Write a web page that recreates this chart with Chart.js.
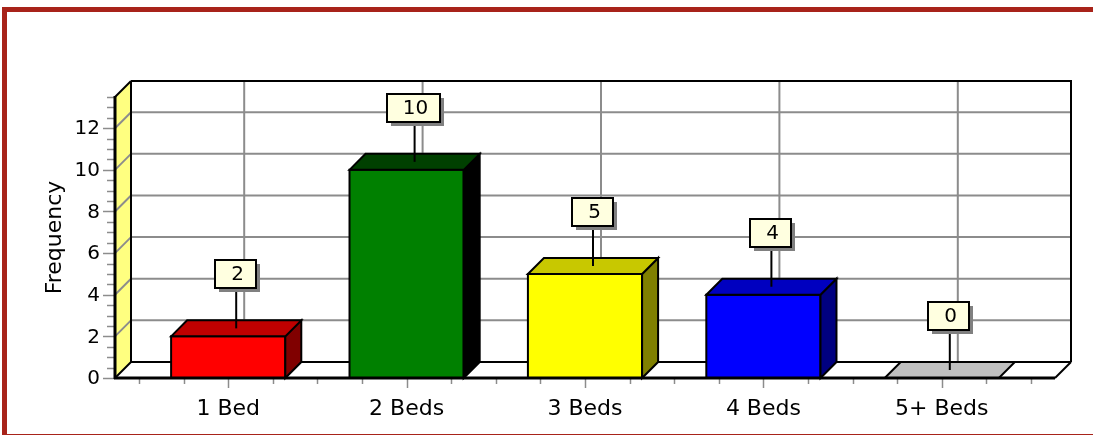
<!DOCTYPE html>
<html>
<head>
<meta charset="utf-8">
<script src="https://cdn.jsdelivr.net/npm/chart.js@4.4.1/dist/chart.umd.min.js"></script>
<style>
  html, body { margin: 0; padding: 0; background: #fff; overflow: hidden; }
  #wrap { position: relative; width: 1093px; height: 436px; }
  #frame {
    position: absolute; left: 2px; top: 7px; width: 1200px; height: 422px;
    border-top: 5px solid #A8231A; border-left: 5px solid #A8231A; border-bottom: 1px solid #A8231A;
  }
  canvas { position: absolute; left: 0; top: 0; }
</style>
</head>
<body>
<div id="wrap">
  <div id="frame"></div>
  <canvas id="bedsChart" width="1093" height="436"></canvas>
</div>
<script>
// data
const categories = ['1 Bed', '2 Beds', '3 Beds', '4 Beds', '5+ Beds'];
const frequency = [2, 10, 5, 4, 0];
const yTickValues = [0, 2, 4, 6, 8, 10, 12];
const yMax = 13.5;
const yMinorStep = 0.5;

// colours per bar: front, top, side
const frontColors = ['#FF0000', '#008000', '#FFFF00', '#0000FF', '#C0C0C0'];
const topColors = ['#C00000', '#004000', '#C8C800', '#0000C0', '#C0C0C0'];
const sideColors = ['#800000', '#000000', '#808000', '#000080', '#808080'];

const DX = 16, DY = 16;     // 3d depth offset
const EXT = 24;             // floor extends past category band
const FONT = "'DejaVu Sans', Verdana, sans-serif";
const GRID = '#8c8c8c';

function poly(ctx, pts, fill, stroke) {
  ctx.beginPath();
  ctx.moveTo(pts[0][0], pts[0][1]);
  for (let i = 1; i < pts.length; i++) ctx.lineTo(pts[i][0], pts[i][1]);
  ctx.closePath();
  if (fill) { ctx.fillStyle = fill; ctx.fill(); }
  if (stroke) { ctx.strokeStyle = stroke; ctx.lineWidth = 2; ctx.stroke(); }
}

function line(ctx, x1, y1, x2, y2, color, w) {
  ctx.beginPath();
  ctx.moveTo(x1, y1);
  ctx.lineTo(x2, y2);
  ctx.strokeStyle = color;
  ctx.lineWidth = w;
  ctx.stroke();
}

const box3d = {
  id: 'box3d',
  beforeDatasetsDraw(chart) {
    const { ctx, chartArea: a, scales: { x, y } } = chart;
    const L = a.left - EXT, R = a.right + EXT;
    const top = y.getPixelForValue(yMax), bot = y.getPixelForValue(0);
    ctx.save();
    ctx.lineCap = 'butt';

    // back wall
    poly(ctx, [[L + DX, top - DY], [R + DX, top - DY], [R + DX, bot - DY], [L + DX, bot - DY]], '#ffffff');
    yTickValues.forEach(v => {
      if (v === 0) return;
      const py = y.getPixelForValue(v) - DY;
      line(ctx, L + DX, py, R + DX, py, GRID, 2);
    });
    categories.forEach((c, i) => {
      const px = x.getPixelForValue(i) + DX;
      line(ctx, px, top - DY, px, bot - DY, GRID, 2);
    });

    // left wall
    poly(ctx, [[L, top], [L + DX, top - DY], [L + DX, bot - DY], [L, bot]], '#FFFF80');
    yTickValues.forEach(v => {
      if (v === 0) return;
      const py = y.getPixelForValue(v);
      line(ctx, L, py, L + DX, py - DY, GRID, 2);
    });

    // floor
    poly(ctx, [[L, bot], [L + DX, bot - DY], [R + DX, bot - DY], [R, bot]], '#ffffff');

    // outlines
    line(ctx, L + DX, top - DY, R + DX, top - DY, '#000', 2);
    line(ctx, R + DX, top - DY - 1, R + DX, bot - DY, '#000', 2);
    line(ctx, L + DX, top - DY, L + DX, bot - DY, '#000', 2);
    line(ctx, L + DX, bot - DY, R + DX, bot - DY, '#000', 2);
    line(ctx, R, bot, R + DX, bot - DY, '#000', 2);
    line(ctx, L, top, L + DX, top - DY, '#000', 2);
    line(ctx, L, bot, L + DX, bot - DY, '#000', 2);

    // y ticks
    for (let v = 0; v <= yMax + 1e-9; v += yMinorStep) {
      const py = Math.round(y.getPixelForValue(v)) + 0.5;
      const major = yTickValues.includes(v);
      line(ctx, L - (major ? 12 : 8), py, L, py, GRID, 1.5);
    }
    ctx.fillStyle = '#000';
    ctx.font = '20px ' + FONT;
    ctx.textAlign = 'right';
    ctx.textBaseline = 'middle';
    yTickValues.forEach(v => ctx.fillText(String(v), 100, y.getPixelForValue(v) + 1));

    // x ticks
    for (let i = 0; i <= categories.length * 4; i++) {
      const v = -0.5 + i * 0.25;
      const px = Math.round(x.getPixelForValue(v)) + 0.5;
      const major = i % 4 === 2;
      line(ctx, px, bot, px, bot + (major ? 10 : 6), GRID, 1.5);
    }
    ctx.font = '22px ' + FONT;
    ctx.textAlign = 'center';
    ctx.textBaseline = 'alphabetic';
    categories.forEach((c, i) => ctx.fillText(c, x.getPixelForValue(i), 415));

    // axis title
    ctx.save();
    ctx.translate(61, (top + bot) / 2);
    ctx.rotate(-Math.PI / 2);
    ctx.textBaseline = 'alphabetic';
    ctx.fillText('Frequency', 0, 0);
    ctx.restore();

    ctx.restore();
  },
  afterDatasetsDraw(chart) {
    const { ctx, chartArea: a, scales: { y } } = chart;
    const L = a.left - EXT, R = a.right + EXT;
    const top = y.getPixelForValue(yMax), bot = y.getPixelForValue(0);
    const meta = chart.getDatasetMeta(0);
    ctx.save();
    ctx.lineJoin = 'miter';

    meta.data.forEach((el, i) => {
      const { x: cx, y: ty, base, width } = el.getProps(['x', 'y', 'base', 'width'], true);
      const l = cx - width / 2, r = cx + width / 2;
      if (base - ty > 0.5) {
        poly(ctx, [[l, ty], [r, ty], [r, base], [l, base]], frontColors[i], '#000');
        poly(ctx, [[r, ty], [r + DX, ty - DY], [r + DX, base - DY], [r, base]], sideColors[i], '#000');
      }
      poly(ctx, [[l, ty], [l + DX, ty - DY], [r + DX, ty - DY], [r, ty]], topColors[i], '#000');
    });

    // front floor edge and front axis
    line(ctx, L - 1, bot, R, bot, '#000', 3);
    line(ctx, L, top - 1, L, bot + 1, '#000', 3);

    // value callouts
    ctx.font = '20px ' + FONT;
    ctx.textAlign = 'center';
    ctx.textBaseline = 'middle';
    meta.data.forEach((el, i) => {
      const { x: cx, y: ty } = el.getProps(['x', 'y'], true);
      const ax = cx + DX / 2, ay = ty - DY / 2;
      const txt = String(frequency[i]);
      const w = Math.round(ctx.measureText(txt).width + 28), h = 28;
      const bx = Math.round(ax - w / 2 - 1), by = Math.round(ay - 40 - h);
      line(ctx, ax, ay, ax, by + h, '#000', 2);
      ctx.fillStyle = '#808080';
      ctx.fillRect(bx + 4, by + 4, w, h);
      ctx.fillStyle = '#FFFFE0';
      ctx.fillRect(bx, by, w, h);
      ctx.strokeStyle = '#000';
      ctx.lineWidth = 2;
      ctx.strokeRect(bx, by, w, h);
      ctx.fillStyle = '#000';
      ctx.fillText(txt, bx + w / 2 + 2, by + h / 2 + 1);
    });
    ctx.restore();
  }
};

new Chart(document.getElementById('bedsChart'), {
  type: 'bar',
  data: {
    labels: categories,
    datasets: [{
      label: 'Frequency',
      data: frequency,
      backgroundColor: 'rgba(0,0,0,0)',
      borderWidth: 0,
      barPercentage: 0.64,
      categoryPercentage: 1
    }]
  },
  options: {
    responsive: false,
    animation: false,
    devicePixelRatio: 1,
    layout: { padding: { left: 139, right: 62, top: 97, bottom: 58 } },
    plugins: { legend: { display: false }, tooltip: { enabled: false } },
    scales: {
      x: { type: 'category', display: false, offset: true, grid: { display: false } },
      y: { display: false, min: 0, max: yMax }
    }
  },
  plugins: [box3d]
});
</script>
</body>
</html>
